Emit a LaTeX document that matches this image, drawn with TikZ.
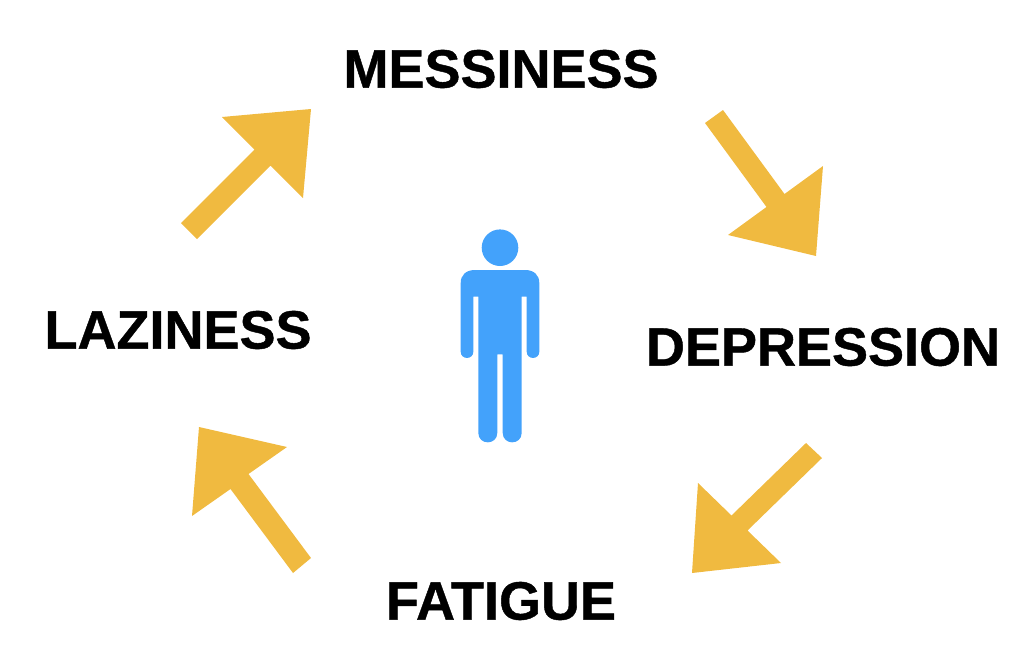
\documentclass[tikz,border=0pt]{standalone}
\usepackage{fontspec}
\setmainfont{Liberation Sans}[BoldFeatures={FakeBold=0.8}]
\definecolor{arrowgold}{HTML}{F0BA40}
\definecolor{figblue}{HTML}{43A2FB}
\tikzset{x=1pt,y=-1pt,
 lbl/.style={font=\bfseries\fontsize{54}{54}\selectfont,text=black,inner sep=0pt,anchor=center},
 bigarrow/.style={fill=arrowgold,draw=none},
 fig/.style={fill=figblue,draw=none}}
\begin{document}
\begin{tikzpicture}
\useasboundingbox (0,0) rectangle (1024,670);
\node[lbl] (mess) at (501,69) {MESSINESS};
\node[lbl] (depr) at (823,347) {DEPRESSION};
\node[lbl] (fati) at (501,601) {FATIGUE};
\node[lbl] (lazi) at (178,330) {LAZINESS};
\fill[bigarrow] (181,223) -- (254.5,149.5) -- (222,117) -- (311,109) -- (303,198) -- (270.5,165.5) -- (197,239) -- cycle;
\fill[bigarrow] (705,123) -- (723,110) -- (784.5,194) -- (823,166) -- (816,256) -- (728,235) -- (766.5,207) -- cycle;
\fill[bigarrow] (822,458) -- (747.5,530.5) -- (781,563) -- (692,573) -- (698,483) -- (731.5,515.5) -- (806,443) -- cycle;
\fill[bigarrow] (311,558) -- (293,573) -- (230.5,489) -- (192,516) -- (199,427) -- (287,447) -- (248.5,474) -- cycle;
\fill[fig] (500,247.7) circle (18.3);
\fill[fig] (475,270) -- (525,270) .. controls (534,270) and (539.3,275) .. (539.3,283)
 -- (539.3,351.7) .. controls (539.3,360) and (526.7,360) .. (526.7,351.7) -- (526.7,296.7) -- (521.7,296.7)
 -- (521.7,432.8) .. controls (521.7,445.5) and (502.7,445.5) .. (502.7,432.8) -- (502.7,354.3) -- (497.3,354.3)
 -- (497.3,432.8) .. controls (497.3,445.5) and (478.3,445.5) .. (478.3,432.8) -- (478.3,296.7) -- (473.3,296.7)
 -- (473.3,351.7) .. controls (473.3,360) and (460.7,360) .. (460.7,351.7) -- (460.7,283) .. controls (460.7,275) and (466,270) .. (475,270) -- cycle;
\end{tikzpicture}
\end{document}
